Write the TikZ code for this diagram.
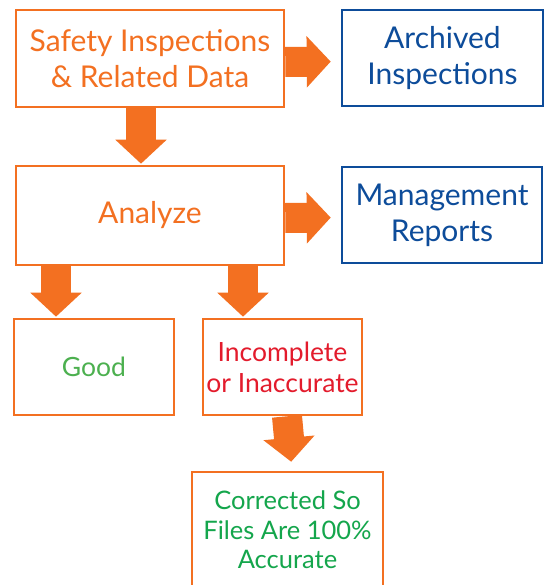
\documentclass[tikz,border=0pt]{standalone}
\usepackage{fontspec}
\setmainfont{Lato}
\usetikzlibrary{arrows.meta}
\definecolor{org}{HTML}{F37021}
\definecolor{navy}{HTML}{0D4C9A}
\definecolor{redt}{HTML}{E31B2C}
\definecolor{goodg}{HTML}{4CB04F}
\definecolor{corrg}{HTML}{14A64C}
\tikzset{
  obox/.style={draw=org, line width=2.6pt, fill=white, align=center, inner sep=0pt},
  bbox/.style={draw=navy, line width=2.6pt, fill=white, align=center, inner sep=0pt, text=navy},
  bigtxt/.style={font=\fontsize{30}{36}\selectfont},
  midtxt/.style={font=\fontsize{26.5}{31}\selectfont},
  smalltxt/.style={font=\fontsize{25.5}{29.5}\selectfont},
  bigarrow/.style={draw=org, line width=30pt, -{Triangle[width=50pt,length=24pt]}},
}
\begin{document}
\begin{tikzpicture}[x=1pt,y=-1pt]
\useasboundingbox (0,0) rectangle (546,585);
\fill[white] (0,0) rectangle (546,585);
\clip (0,0) rectangle (546,585);

\node[obox, bigtxt, text=org, minimum width=268pt, minimum height=97pt] (src) at (150,58.5) {Safety Inspections\\\& Related Data};
\node[bbox, bigtxt, minimum width=201pt, minimum height=96pt] (arch) at (442.5,58) {Archived\\Inspections};
\node[obox, bigtxt, text=org, minimum width=268pt, minimum height=99pt] (ana) at (150,215.5) {Analyze};
\node[bbox, bigtxt, minimum width=200pt, minimum height=96pt] (mgmt) at (442,215) {Management\\Reports};
\node[obox, midtxt, text=goodg, minimum width=160pt, minimum height=96pt] (good) at (94,367) {Good};
\node[obox, midtxt, text=redt, minimum width=159pt, minimum height=96pt] (inc) at (282.5,367) {Incomplete\\or Inaccurate};
\node[obox, smalltxt, text=corrg, minimum width=191pt, minimum height=116pt] (corr) at (287.5,530) {Corrected So\\Files Are 100\%\\Accurate};

\coordinate (cg) at (56,0);
\coordinate (ci) at (243,0);

\draw[bigarrow, shorten >=10pt] ([yshift=-3.5pt]src.east) -- ([yshift=-3.5pt]arch.west);
\draw[bigarrow, shorten >=1pt] ([xshift=-9pt]src.south) -- ([xshift=-9pt]ana.north);
\draw[bigarrow, shorten >=10pt] ([yshift=-2.5pt]ana.east) -- ([yshift=-2.5pt]mgmt.west);
\draw[bigarrow, shorten >=1pt] (ana.south -| cg) -- (good.north -| cg);
\draw[bigarrow, shorten >=1pt] (ana.south -| ci) -- (inc.north -| ci);
\draw[bigarrow, shorten >=9pt] ([xshift=4.5pt]inc.south) -- ([xshift=4.5pt]corr.north);
\end{tikzpicture}
\end{document}
